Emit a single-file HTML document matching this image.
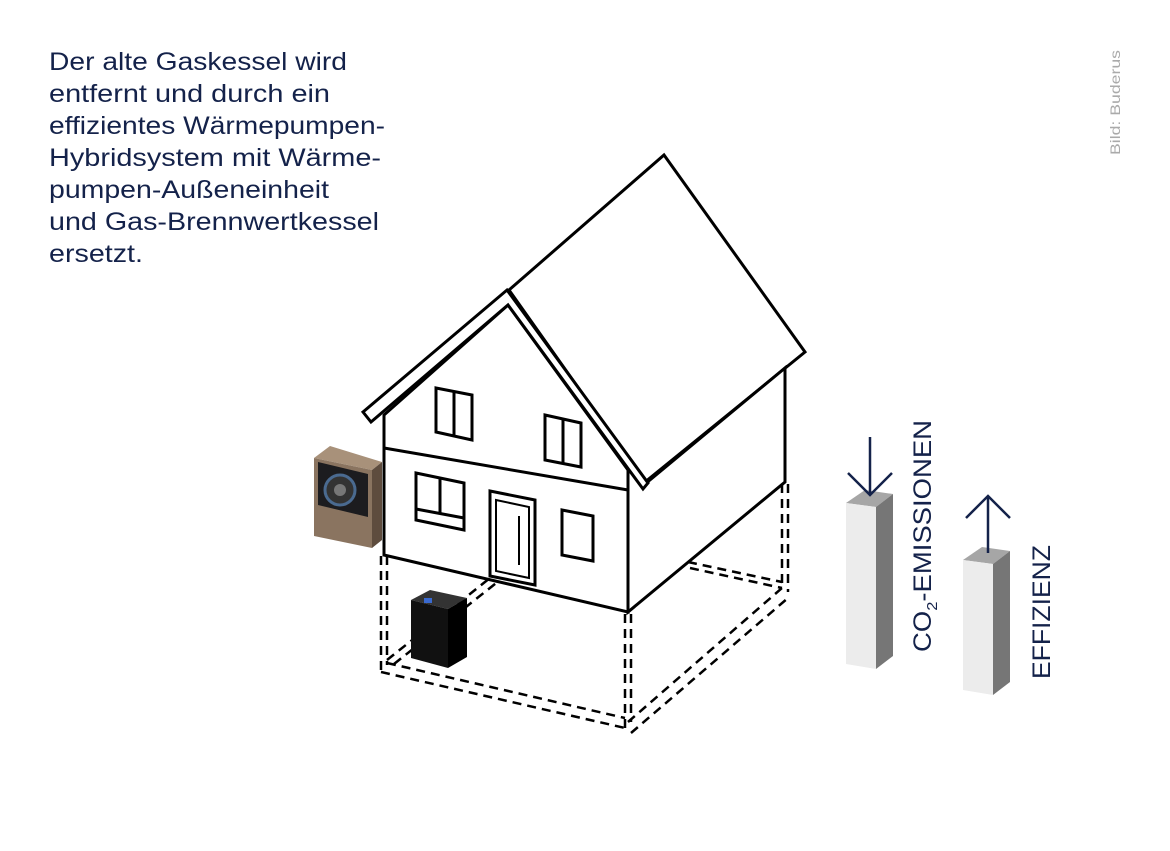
<!DOCTYPE html>
<html><head><meta charset="utf-8"><style>
html,body{margin:0;padding:0;background:#fff;width:1170px;height:851px;overflow:hidden}
svg{display:block}
</style></head><body>
<svg width="1170" height="851" viewBox="0 0 1170 851" xmlns="http://www.w3.org/2000/svg">
<rect width="1170" height="851" fill="#fff"/>
<g font-family="Liberation Sans, sans-serif" font-size="25" fill="#14224a">
<text x="49" y="70" textLength="298" lengthAdjust="spacingAndGlyphs">Der alte Gaskessel wird</text>
<text x="49" y="102" textLength="281" lengthAdjust="spacingAndGlyphs">entfernt und durch ein</text>
<text x="49" y="134" textLength="336" lengthAdjust="spacingAndGlyphs">effizientes Wärmepumpen-</text>
<text x="49" y="166" textLength="332" lengthAdjust="spacingAndGlyphs">Hybridsystem mit Wärme-</text>
<text x="49" y="198" textLength="280" lengthAdjust="spacingAndGlyphs">pumpen-Außeneinheit</text>
<text x="49" y="230" textLength="330" lengthAdjust="spacingAndGlyphs">und Gas-Brennwertkessel</text>
<text x="49" y="262" textLength="94" lengthAdjust="spacingAndGlyphs">ersetzt.</text>
</g>
<text transform="translate(1120,155) rotate(-90)" font-family="Liberation Sans, sans-serif" font-size="14" fill="#aaa" textLength="105" lengthAdjust="spacingAndGlyphs">Bild: Buderus</text>

<g fill="none" stroke="#000" stroke-width="3" stroke-linejoin="miter">
<g stroke-dasharray="9,6" stroke-width="2.5">
<line x1="381" y1="556" x2="381" y2="672"/><line x1="387" y1="556" x2="387" y2="665"/>
<line x1="625" y1="614" x2="625" y2="728"/><line x1="631" y1="614" x2="631" y2="722"/>
<line x1="782" y1="484" x2="782" y2="585"/><line x1="788" y1="484" x2="788" y2="592"/>
<line x1="381" y1="672" x2="625" y2="728"/><line x1="387" y1="663" x2="625" y2="718"/>
<line x1="631" y1="733" x2="788" y2="598"/><line x1="628" y1="722" x2="782" y2="588"/>
<line x1="387" y1="660" x2="490" y2="578"/><line x1="394" y1="664" x2="500" y2="580"/>
<line x1="688" y1="562" x2="782" y2="582"/><line x1="690" y1="568" x2="782" y2="588"/>
</g>
<polygon points="509,290 664,155 805,352 645,482" fill="#fff"/>
<polygon points="628,470 645,484 785,368 785,482 628,612" fill="#fff"/>
<polygon points="384,415 508,305 628,470 628,612 384,555" fill="#fff"/>
<line x1="384" y1="448" x2="628" y2="490"/>
<polygon points="363,412 507,290 648,483 643,489 508,305 371,422" fill="#fff"/>
<polygon points="436,388 472,395 472,440 436,432"/><line x1="454" y1="392" x2="454" y2="436"/>
<polygon points="545,415 581,423 581,467 545,460"/><line x1="563" y1="419" x2="563" y2="463"/>
<polygon points="416,473 464,483 464,530 416,520"/><line x1="440" y1="478" x2="440" y2="513"/><line x1="416" y1="509" x2="464" y2="518"/>
<polygon points="490,491 535,500 535,585 490,576"/><polygon points="496,500 529,507 529,578 496,571" stroke-width="2"/>
<line x1="519" y1="516" x2="519" y2="565" stroke-width="2"/>
<polygon points="562,510 593,516 593,561 562,555"/>
</g>

<polygon points="314,458 330,446 382,462 372,470" fill="#a8917a"/>
<polygon points="314,458 372,470 372,548 314,536" fill="#8a7460"/>
<polygon points="372,470 382,462 382,540 372,548" fill="#5e4c3e"/>
<polygon points="318,462 368,474 368,517 318,505" fill="#1c1c1f"/>
<circle cx="340" cy="490" r="15" fill="#333" stroke="#4a6a90" stroke-width="3"/>
<circle cx="340" cy="490" r="6" fill="#777"/>

<polygon points="411,600 430,590 467,598 448,609" fill="#333"/>
<polygon points="411,600 448,609 448,668 411,658" fill="#111"/>
<polygon points="448,609 467,598 467,657 448,668" fill="#000"/>
<rect x="424" y="598" width="8" height="5" fill="#3a6ad0"/>

<polygon points="846,503 865,490 893,494 876,507" fill="#a6a6a6"/>
<polygon points="846,503 876,507 876,669 846,664" fill="#ececec"/>
<polygon points="876,507 893,494 893,656 876,669" fill="#767676"/>
<polygon points="963,560 982,547 1010,551 993,564" fill="#a6a6a6"/>
<polygon points="963,560 993,564 993,695 963,690" fill="#ececec"/>
<polygon points="993,564 1010,551 1010,682 993,695" fill="#767676"/>
<g stroke="#14224a" stroke-width="2.5" fill="none">
<line x1="870" y1="437" x2="870" y2="495"/><polyline points="848,473 870,495 892,473"/>
<line x1="988" y1="553" x2="988" y2="496"/><polyline points="966,518 988,496 1010,518"/>
</g>
<g font-family="Liberation Sans, sans-serif" font-size="25" fill="#14224a">
<text transform="translate(931,652) rotate(-90)" textLength="232" lengthAdjust="spacingAndGlyphs">CO<tspan font-size="15" dy="6">2</tspan><tspan dy="-6">-EMISSIONEN</tspan></text>
<text transform="translate(1050,679) rotate(-90)" textLength="134" lengthAdjust="spacingAndGlyphs">EFFIZIENZ</text>
</g>
</svg>
</body></html>
